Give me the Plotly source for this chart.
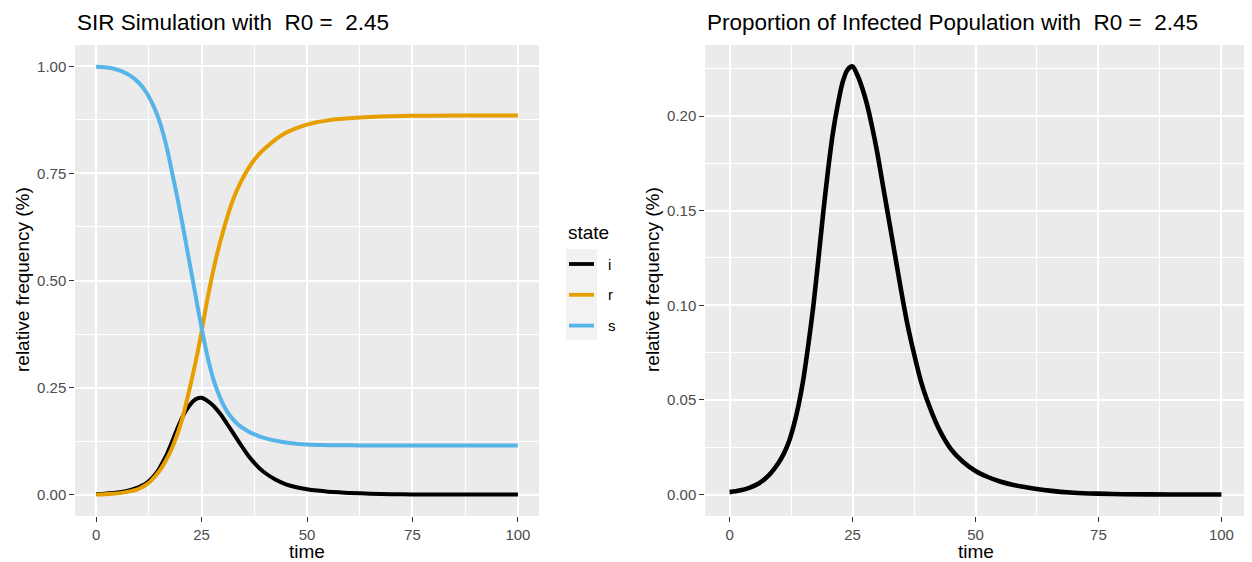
import plotly.graph_objects as go

# ---------------- data ----------------
time = [0, 2, 4, 6, 8, 10, 11, 12, 13, 14, 15, 16, 17, 18, 19, 20, 21, 22, 23, 24, 25,
        26, 27, 28, 29, 30, 31, 32, 33, 34, 35, 36, 37, 38, 39, 40, 42.5, 45, 47.5, 50,
        52.5, 55, 57.5, 60, 65, 70, 75, 80, 90, 100]

i_vals = [0.0013, 0.0021, 0.0036, 0.0060, 0.0103, 0.017, 0.0215, 0.0275, 0.036, 0.047, 0.061,
          0.079, 0.099, 0.123, 0.148, 0.171, 0.191, 0.206, 0.218, 0.2245, 0.2262,
          0.2215, 0.2145, 0.2055, 0.194, 0.181, 0.166, 0.151, 0.136, 0.121, 0.106,
          0.092, 0.080, 0.069, 0.059, 0.051, 0.035, 0.024, 0.0172, 0.0125,
          0.0093, 0.0069, 0.0052, 0.0040, 0.0021, 0.0010, 0.0005, 0.0002, 0.00005, 0.00001]

r_vals = [0.0, 0.0008, 0.002, 0.004, 0.0075, 0.013, 0.018, 0.024, 0.032, 0.043, 0.055,
          0.070, 0.088, 0.109, 0.134, 0.163, 0.199, 0.240, 0.283, 0.329, 0.380,
          0.436, 0.487, 0.533, 0.574, 0.611, 0.645, 0.676, 0.702, 0.724, 0.743,
          0.760, 0.775, 0.788, 0.799, 0.808, 0.829, 0.845, 0.856, 0.864,
          0.870, 0.874, 0.877, 0.879, 0.882, 0.8838, 0.8846, 0.885, 0.8852, 0.8853]

s_vals = [0.999, 0.998, 0.995, 0.989, 0.979, 0.963, 0.952, 0.938, 0.920, 0.899, 0.873,
          0.840, 0.800, 0.753, 0.706, 0.657, 0.604, 0.550, 0.496, 0.442, 0.390,
          0.341, 0.298, 0.263, 0.236, 0.213, 0.195, 0.181, 0.170, 0.161, 0.154,
          0.148, 0.143, 0.139, 0.135, 0.132, 0.126, 0.1215, 0.119, 0.117,
          0.116, 0.1155, 0.1152, 0.115, 0.1148, 0.1147, 0.1147, 0.1147, 0.1147, 0.1147]

states = ["i", "r", "s"]
state_colors = ["#000000", "#E69F00", "#56B4E9"]
series = {"i": i_vals, "r": r_vals, "s": s_vals}

x_ticks = [0, 25, 50, 75, 100]
y_ticks_left = [0.0, 0.25, 0.5, 0.75, 1.0]
y_ticks_right = [0.0, 0.05, 0.10, 0.15, 0.20]

title_left = "SIR Simulation with  R0 =  2.45"
title_right = "Proportion of Infected Population with  R0 =  2.45"
x_title = "time"
y_title = "relative frequency (%)"
legend_title = "state"

# ---------------- figure ----------------
W, H = 1252, 562
OFF = 8  # default page body margin
FONT = "Liberation Sans, Arial, sans-serif"


def px_x(p):
    return (p - OFF) / W


def px_y(p):
    return 1 - (p - OFF) / H


fig = go.Figure()

for name, col in zip(states, state_colors):
    fig.add_trace(go.Scatter(x=time, y=series[name], mode="lines", name=name,
                             line=dict(color=col, width=4, shape="spline", smoothing=0.8),
                             xaxis="x", yaxis="y", showlegend=False))

fig.add_trace(go.Scatter(x=time, y=i_vals, mode="lines", name="i",
                         line=dict(color="#000000", width=4.6, shape="spline", smoothing=0.8),
                         xaxis="x2", yaxis="y2", showlegend=False))

ymax_r = max(i_vals)
ymin_r = 0.0
pad_r = 0.05 * (ymax_r - ymin_r)

common_axis = dict(
    showgrid=True, gridcolor="white", gridwidth=2.2,
    zeroline=False, showline=False,
    ticks="outside", ticklen=4.7, tickwidth=1.3, tickcolor="#333333",
    tickfont=dict(family=FONT, size=15, color="#4D4D4D"),
)

fig.update_layout(
    width=W, height=H,
    margin=dict(l=0, r=0, t=0, b=0),
    paper_bgcolor="white", plot_bgcolor="#EBEBEB",
    font=dict(family=FONT),
    xaxis=dict(domain=[px_x(75), px_x(539)], range=[-5, 105], anchor="y",
               tickvals=x_ticks,
               minor=dict(dtick=12.5, tick0=0, showgrid=True, gridcolor="white", gridwidth=1.1, ticks=""),
               **common_axis),
    yaxis=dict(domain=[px_y(516), px_y(45)], range=[-0.05, 1.05], anchor="x",
               tickvals=y_ticks_left, tickformat=".2f",
               minor=dict(dtick=0.125, tick0=0, showgrid=True, gridcolor="white", gridwidth=1.1, ticks=""),
               **common_axis),
    xaxis2=dict(domain=[px_x(705), px_x(1246)], range=[-5, 105], anchor="y2",
                tickvals=x_ticks,
                minor=dict(dtick=12.5, tick0=0, showgrid=True, gridcolor="white", gridwidth=1.1, ticks=""),
                **common_axis),
    yaxis2=dict(domain=[px_y(516), px_y(45)], range=[ymin_r - pad_r, ymax_r + pad_r], anchor="x2",
                tickvals=y_ticks_right, tickformat=".2f",
                minor=dict(dtick=0.025, tick0=0, showgrid=True, gridcolor="white", gridwidth=1.1, ticks=""),
                **common_axis),
    showlegend=False,
)

annotations = []
# titles
annotations.append(dict(text=title_left, x=px_x(75), y=px_y(22), xref="paper", yref="paper",
                        xanchor="left", yanchor="middle", showarrow=False,
                        font=dict(family=FONT, size=22.5, color="black")))
annotations.append(dict(text=title_right, x=px_x(705), y=px_y(22), xref="paper", yref="paper",
                        xanchor="left", yanchor="middle", showarrow=False,
                        font=dict(family=FONT, size=22.5, color="black")))
# axis titles
for cx in [(75 + 539) / 2, (705 + 1246) / 2]:
    annotations.append(dict(text=x_title, x=px_x(cx), y=px_y(551), xref="paper", yref="paper",
                            xanchor="center", yanchor="middle", showarrow=False,
                            font=dict(family=FONT, size=19, color="black")))
for cx in [22, 652]:
    annotations.append(dict(text=y_title, x=px_x(cx), y=px_y(280), xref="paper", yref="paper",
                            xanchor="center", yanchor="middle", showarrow=False, textangle=-90,
                            font=dict(family=FONT, size=19, color="black")))

# legend (drawn manually to mimic ggplot guide)
annotations.append(dict(text=legend_title, x=px_x(566), y=px_y(232), xref="paper", yref="paper",
                        xanchor="left", yanchor="middle", showarrow=False,
                        font=dict(family=FONT, size=19, color="black")))
shapes = [dict(type="rect", xref="paper", yref="paper",
               x0=px_x(566), x1=px_x(597), y0=px_y(249), y1=px_y(340),
               fillcolor="#F2F2F2", line=dict(width=0), layer="below")]
for k, (name, col) in enumerate(zip(states, state_colors)):
    yc = 264 + k * 30.8
    shapes.append(dict(type="line", xref="paper", yref="paper",
                       x0=px_x(569), x1=px_x(594), y0=px_y(yc), y1=px_y(yc),
                       line=dict(color=col, width=3.8)))
    annotations.append(dict(text=name, x=px_x(606), y=px_y(yc), xref="paper", yref="paper",
                            xanchor="left", yanchor="middle", showarrow=False,
                            font=dict(family=FONT, size=15, color="black")))

fig.update_layout(annotations=annotations, shapes=shapes)

fig.write_html("out.html")
